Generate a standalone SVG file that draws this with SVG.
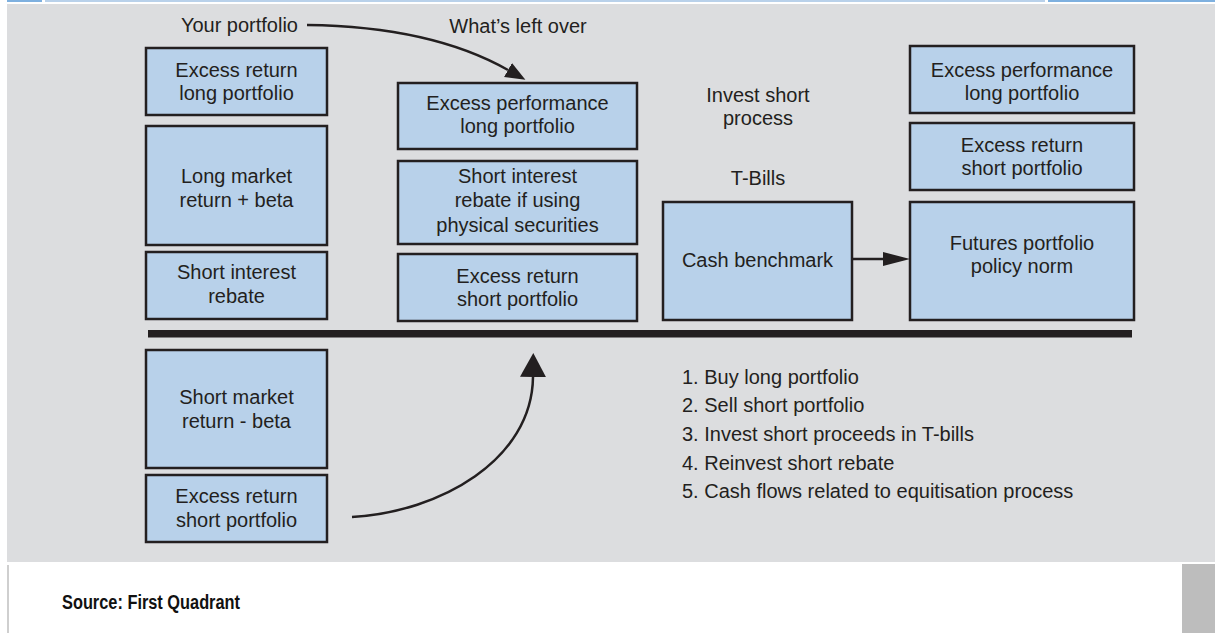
<svg xmlns="http://www.w3.org/2000/svg" width="1215" height="633" viewBox="0 0 1215 633">
  <style>
    .box { fill: #b8d1ea; stroke: #231f20; stroke-width: 2.5; }
    .t { font-family: "Liberation Sans", Arial, sans-serif; font-size: 20px; fill: #231f20; }
    .c { text-anchor: middle; }
    .conn { fill: none; stroke: #231f20; stroke-width: 2.5; }
    .src { font-family: "Liberation Sans", Arial, sans-serif; font-weight: bold; font-size: 20px; fill: #111111; }
  </style>
  <defs>
    <marker id="ahA" markerUnits="userSpaceOnUse" markerWidth="22" markerHeight="18" refX="0" refY="8" orient="auto">
      <path d="M0,0 L20,8 L0,16 z" fill="#231f20"/>
    </marker>
    <marker id="ahB" markerUnits="userSpaceOnUse" markerWidth="26" markerHeight="28" refX="0" refY="13" orient="auto">
      <path d="M0,0 L24,13 L0,26 z" fill="#231f20"/>
    </marker>
    <marker id="ahC" markerUnits="userSpaceOnUse" markerWidth="30" markerHeight="16" refX="0" refY="7" orient="auto">
      <path d="M0,0 L27,7 L0,14 z" fill="#231f20"/>
    </marker>
  </defs>

  <!-- background -->
  <rect x="0" y="0" width="1215" height="633" fill="#ffffff"/>
  <rect x="7" y="0" width="35" height="2" fill="#7eb0df"/>
  <rect x="45" y="0" width="1000" height="2" fill="#b9d1ea"/>
  <rect x="1048" y="0" width="167" height="2" fill="#7eb0df"/>
  <rect x="7" y="4" width="1208" height="558" fill="#dcdddf"/>
  <rect x="7" y="565" width="2" height="68" fill="#cfcfcf"/>
  <rect x="1182" y="564" width="33" height="69" fill="#bdbdbd"/>

  <!-- thick divider -->
  <rect x="148" y="330" width="984" height="7.5" fill="#231f20"/>

  <!-- labels -->
  <g id="labels">
    <text class="t" x="298" y="32" text-anchor="end">Your portfolio</text>
    <text class="t c" x="518" y="33">What’s left over</text>
    <text class="t c" x="758" y="102">Invest short</text>
    <text class="t c" x="758" y="125">process</text>
    <text class="t c" x="758" y="185">T-Bills</text>
    <text class="src" x="62" y="609" textLength="178" lengthAdjust="spacingAndGlyphs">Source: First Quadrant</text>
  </g>

  <!-- left column -->
  <g id="excess-return-long">
    <rect class="box" x="146" y="48" width="181" height="67"/>
    <text class="t c" x="236.5" y="77">Excess return</text>
    <text class="t c" x="236.5" y="100">long portfolio</text>
  </g>
  <g id="long-market-return">
    <rect class="box" x="146" y="126" width="181" height="119"/>
    <text class="t c" x="236.5" y="183">Long market</text>
    <text class="t c" x="236.5" y="207">return + beta</text>
  </g>
  <g id="short-interest-rebate">
    <rect class="box" x="146" y="252" width="181" height="67"/>
    <text class="t c" x="236.5" y="279">Short interest</text>
    <text class="t c" x="236.5" y="303">rebate</text>
  </g>
  <g id="short-market-return">
    <rect class="box" x="146" y="350" width="181" height="118"/>
    <text class="t c" x="236.5" y="404">Short market</text>
    <text class="t c" x="236.5" y="428">return - beta</text>
  </g>
  <g id="excess-return-short-left">
    <rect class="box" x="146" y="475" width="181" height="67"/>
    <text class="t c" x="236.5" y="503">Excess return</text>
    <text class="t c" x="236.5" y="527">short portfolio</text>
  </g>

  <!-- middle column -->
  <g id="excess-performance-long-mid">
    <rect class="box" x="398" y="83" width="239" height="66"/>
    <text class="t c" x="517.5" y="110">Excess performance</text>
    <text class="t c" x="517.5" y="133">long portfolio</text>
  </g>
  <g id="short-interest-rebate-physical">
    <rect class="box" x="398" y="161" width="239" height="83"/>
    <text class="t c" x="517.5" y="183">Short interest</text>
    <text class="t c" x="517.5" y="207">rebate if using</text>
    <text class="t c" x="517.5" y="232">physical securities</text>
  </g>
  <g id="excess-return-short-mid">
    <rect class="box" x="398" y="254" width="239" height="67"/>
    <text class="t c" x="517.5" y="283">Excess return</text>
    <text class="t c" x="517.5" y="306">short portfolio</text>
  </g>

  <!-- cash benchmark -->
  <g id="cash-benchmark">
    <rect class="box" x="663" y="202" width="189" height="118"/>
    <text class="t c" x="757.5" y="267">Cash benchmark</text>
  </g>

  <!-- right column -->
  <g id="excess-performance-long-right">
    <rect class="box" x="910" y="46" width="224" height="67"/>
    <text class="t c" x="1022" y="77">Excess performance</text>
    <text class="t c" x="1022" y="100">long portfolio</text>
  </g>
  <g id="excess-return-short-right">
    <rect class="box" x="910" y="123" width="224" height="67"/>
    <text class="t c" x="1022" y="152">Excess return</text>
    <text class="t c" x="1022" y="175">short portfolio</text>
  </g>
  <g id="futures-portfolio">
    <rect class="box" x="910" y="202" width="224" height="118"/>
    <text class="t c" x="1022" y="250">Futures portfolio</text>
    <text class="t c" x="1022" y="273">policy norm</text>
  </g>

  <!-- steps list -->
  <g id="steps">
    <text class="t" x="682" y="384">1. Buy long portfolio</text>
    <text class="t" x="682" y="412">2. Sell short portfolio</text>
    <text class="t" x="682" y="441">3. Invest short proceeds in T-bills</text>
    <text class="t" x="682" y="470">4. Reinvest short rebate</text>
    <text class="t" x="682" y="498">5. Cash flows related to equitisation process</text>
  </g>

  <!-- connectors -->
  <g id="connectors">
    <path class="conn" d="M307,25 C390,26 455,40 508,70" marker-end="url(#ahA)"/>
    <path class="conn" d="M352,517 C440,512 532,460 533,377" marker-end="url(#ahB)"/>
    <path class="conn" d="M852,259 L883,259" marker-end="url(#ahC)"/>
  </g>
</svg>
